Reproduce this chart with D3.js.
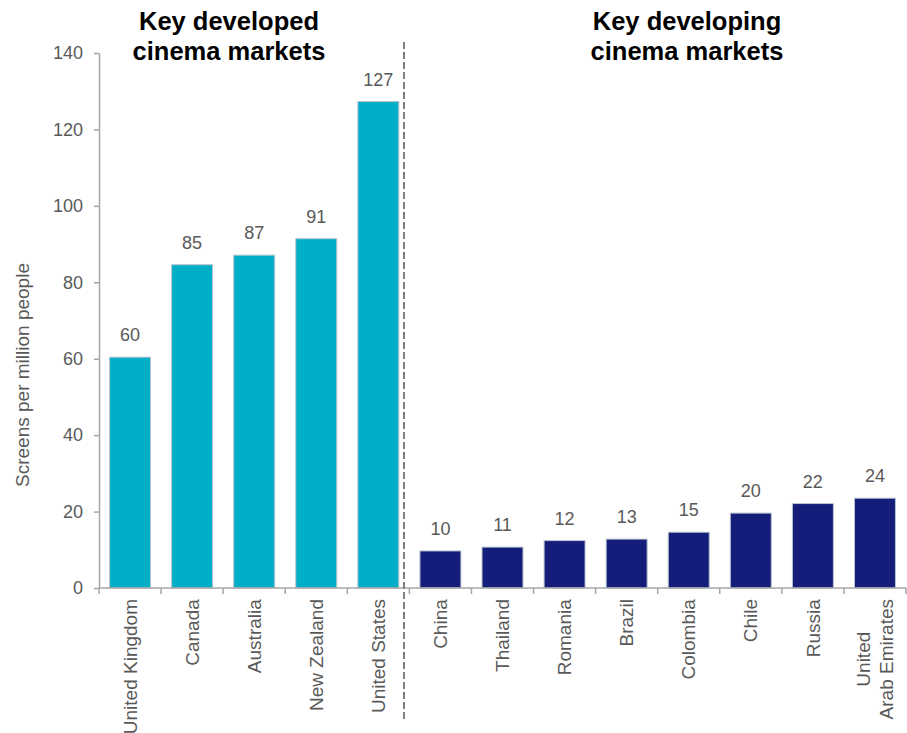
<!DOCTYPE html>
<html>
<head>
<meta charset="utf-8">
<script src="https://cdn.jsdelivr.net/npm/d3@7"></script>
<style>
  body { margin: 0; background: #fff; }
  text { font-family: "Liberation Sans", Arial, sans-serif; }
</style>
</head>
<body>
<svg id="chart"></svg>
<script>
// data
const developed = ["United Kingdom", "Canada", "Australia", "New Zealand", "United States"];
const developedValues = [60.4, 84.6, 87.1, 91.4, 127.3];
const developing = ["China", "Thailand", "Romania", "Brazil", "Colombia", "Chile", "Russia", "United\nArab Emirates"];
const developingValues = [9.7, 10.7, 12.4, 12.8, 14.6, 19.6, 22.1, 23.5];
const yTicks = [0, 20, 40, 60, 80, 100, 120, 140];
const groupTitles = [["Key developed", "cinema markets"], ["Key developing", "cinema markets"]];

const width = 907, height = 733;
const teal = "#00aec7", navy = "#141d79";
const grey = "#595959", axisGrey = "#a6a6a6";

const bars = developed.map((c, i) => ({ name: c, value: developedValues[i], color: teal }))
    .concat(developing.map((c, i) => ({ name: c, value: developingValues[i], color: navy })));

const svg = d3.select("#chart").attr("width", width).attr("height", height);

const x = d3.scaleBand()
    .domain(bars.map(d => d.name))
    .range([99, 906])
    .paddingInner(0.34)
    .paddingOuter(0.17);

const y = d3.scaleLinear().domain([0, 140]).range([588, 53]);

// y axis
const yAxis = svg.append("g")
    .attr("transform", "translate(99,0)")
    .call(d3.axisLeft(y).tickValues(yTicks).tickSize(5).tickPadding(11).tickSizeOuter(0));
yAxis.select(".domain").attr("stroke", axisGrey).attr("stroke-width", 1.5);
yAxis.selectAll(".tick line").attr("stroke", axisGrey).attr("stroke-width", 1.5);
yAxis.selectAll(".tick text")
    .attr("fill", grey)
    .style("font-size", "18px")
    .style("font-family", "'Liberation Sans', Arial, sans-serif");

svg.append("text")
    .attr("transform", "translate(29,375) rotate(-90)")
    .attr("text-anchor", "middle")
    .attr("fill", grey)
    .style("font-size", "19px")
    .text("Screens per million people");

// bars
svg.selectAll("rect.bar")
    .data(bars)
    .enter()
    .append("rect")
    .attr("class", "bar")
    .attr("x", d => x(d.name))
    .attr("y", d => y(d.value))
    .attr("width", x.bandwidth())
    .attr("height", d => y(0) - y(d.value))
    .attr("fill", d => d.color)
    .attr("stroke", "#b8c4d0")
    .attr("stroke-width", 1);

// value labels
svg.selectAll("text.value")
    .data(bars)
    .enter()
    .append("text")
    .attr("class", "value")
    .attr("x", d => x(d.name) + x.bandwidth() / 2)
    .attr("y", d => y(d.value) - 16)
    .attr("text-anchor", "middle")
    .attr("fill", grey)
    .style("font-size", "18px")
    .text(d => d3.format(".0f")(d.value));

// x axis line and ticks at the band edges
svg.append("line")
    .attr("x1", 99).attr("x2", 906)
    .attr("y1", y(0)).attr("y2", y(0))
    .attr("stroke", axisGrey).attr("stroke-width", 1.5);

const edges = bars.map(d => x(d.name) - x.step() * x.paddingInner() / 2);
edges[0] = 99;
edges.push(906);
svg.selectAll("line.xtick")
    .data(edges)
    .enter()
    .append("line")
    .attr("class", "xtick")
    .attr("x1", d => d).attr("x2", d => d)
    .attr("y1", y(0)).attr("y2", y(0) + 6)
    .attr("stroke", axisGrey).attr("stroke-width", 1.5);

// category labels, rotated
svg.selectAll("text.cat")
    .data(bars)
    .enter()
    .append("text")
    .attr("class", "cat")
    .attr("text-anchor", "middle")
    .attr("fill", grey)
    .style("font-size", "19px")
    .each(function(d) {
        const lines = d.name.split("\n");
        const t = d3.select(this);
        lines.forEach((l, i) => {
            t.append("tspan")
                .attr("x", 0)
                .attr("dy", i === 0 ? (0.35 - (lines.length - 1) * 0.6) + "em" : "1.2em")
                .text(l);
        });
        const w = this.getBBox().width;
        t.attr("transform", `translate(${x(d.name) + x.bandwidth() / 2},${599 + w / 2}) rotate(-90)`);
    });

// divider between the two groups
svg.append("line")
    .attr("x1", 404).attr("x2", 404)
    .attr("y1", 42).attr("y2", 720)
    .attr("stroke", "#808080")
    .attr("stroke-width", 2)
    .attr("stroke-dasharray", "7,3");

// group titles
const titleX = [229, 687];
groupTitles.forEach((lines, i) => {
    const t = svg.append("text")
        .attr("text-anchor", "middle")
        .attr("fill", "#000")
        .style("font-size", "25.5px")
        .style("font-weight", "bold");
    lines.forEach((l, j) => {
        t.append("tspan")
            .attr("x", titleX[i])
            .attr("y", 30 + j * 30)
            .text(l);
    });
});
</script>
</body>
</html>
